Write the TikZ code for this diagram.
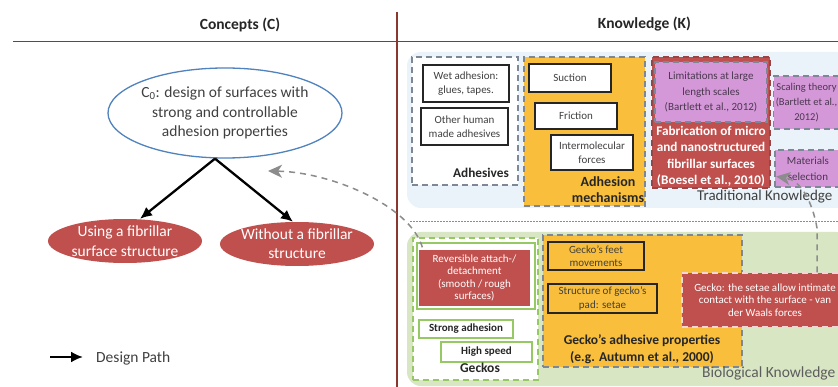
\documentclass[tikz,border=0pt]{standalone}
\usepackage{fontspec}
\setmainfont{Carlito}
\usetikzlibrary{shapes.geometric,arrows.meta,calc}
\definecolor{hdr}{RGB}{140,55,45}
\definecolor{redA}{RGB}{192,80,77}
\definecolor{orng}{RGB}{249,191,60}
\definecolor{purp}{RGB}{212,152,216}
\definecolor{bluebg}{RGB}{234,243,249}
\definecolor{greenbg}{RGB}{216,230,196}
\definecolor{gline}{RGB}{150,200,100}
\definecolor{dgray}{RGB}{125,135,150}
\definecolor{txt}{RGB}{64,64,64}
\definecolor{dtxt}{RGB}{38,38,38}
\definecolor{ptxt}{RGB}{75,55,80}
\definecolor{eblue}{RGB}{80,130,190}
\definecolor{fbgray}{RGB}{140,140,140}
\definecolor{rdash}{RGB}{150,70,70}
\definecolor{wdash}{RGB}{240,215,215}
\newcommand\fsz[2]{\fontsize{#1}{#2}\selectfont}
\begin{document}
\begin{tikzpicture}[x=1pt,y=-1pt,
  bg/.style={rounded corners=14pt, draw=none, inner sep=0pt},
  dbox/.style={draw=dgray, dash pattern=on 6pt off 4pt, line width=1.6pt, inner sep=0pt, align=center},
  wbox/.style={draw=black!85, line width=1.6pt, fill=white, align=center, text=txt, font=\fsz{11}{14}, inner sep=0pt},
  obox/.style={draw=black!85, line width=1.6pt, fill=orng, align=center, text=txt, font=\fsz{11}{13.5}, inner sep=0pt},
  gbox/.style={draw=gline, line width=1.3pt, fill=white, align=center, text=dtxt, font=\bfseries\fsz{11}{13}, inner sep=0pt},
  blab/.style={align=center, text=dtxt, inner sep=0pt},
  hline/.style={draw=hdr, line width=1.5pt},
  dpath/.style={draw=black, line width=2.3pt, -{Latex[length=12pt,width=11pt]}},
  fb/.style={draw=fbgray, line width=1.5pt, dash pattern=on 6pt off 5pt, -{Stealth[length=14pt,width=13pt,inset=4pt]}},
  ell/.style={ellipse, align=center}
]
\clip (0,0) rectangle (838,387);
\fill[white] (0,0) rectangle (838,387);

% header
\coordinate (hl1) at (13,41.5);
\coordinate (hl2) at (838,41.5);
\coordinate (vl1) at (397,12);
\coordinate (vl2) at (397,387);
\draw[hline] (hl1) -- (hl2);
\draw[hline] (vl1) -- (vl2);
\node[font=\bfseries\fsz{15.5}{18}, text=dtxt] (cpt) at (240,25) {Concepts (C)};
\node[font=\bfseries\fsz{15.5}{18}, text=dtxt] (kn) at (644.5,24) {Knowledge (K)};

% backgrounds
\node[bg, fill=bluebg, minimum width=443pt, minimum height=156pt] (trad) at (628.5,130) {};
\node[bg, fill=greenbg, minimum width=443pt, minimum height=154pt] (bio) at (628.5,309) {};
\coordinate (sepL) at (410,222);
\coordinate (sepR) at (838,222);
\draw[fbgray, line width=1pt, dash pattern=on 1.5pt off 1.5pt] (sepL) -- (sepR);

% traditional knowledge
\node[dbox, fill=white, minimum width=106pt, minimum height=128pt] (adh) at (465,121) {};
\node[wbox, minimum width=86pt, minimum height=37pt] (wet) at (466,83.5) {Wet adhesion:\\glues, tapes.};
\node[wbox, minimum width=87pt, minimum height=37pt] (oth) at (464.5,126.5) {Other human\\made adhesives};
\node[blab, font=\bfseries\fsz{13.3}{16}] (adhl) at (481,173) {Adhesives};

\node[dbox, fill=orng, minimum width=121pt, minimum height=149pt] (mech) at (584.5,131.5) {};
\node[wbox, minimum width=82pt, minimum height=28pt] (suc) at (570,78) {Suction};
\node[wbox, minimum width=82pt, minimum height=26pt] (fri) at (576,116) {Friction};
\node[wbox, minimum width=82pt, minimum height=35pt] (inter) at (592,152.5) {Intermolecular\\forces};
\node[blab, font=\bfseries\fsz{14}{16}] (mechl) at (608,190) {Adhesion\\mechanisms};

\node[dbox, draw=rdash, fill=redA, minimum width=118pt, minimum height=131pt] (fab) at (711,122.5) {};
\node[dbox, fill=purp, minimum width=112pt, minimum height=60pt, text=ptxt, font=\fsz{11}{15.5}] (lim) at (711,92) {Limitations at large\\length scales\\(Bartlett et al., 2012)};
\node[blab, text=white, font=\bfseries\fsz{13.2}{16.3}] (fabl) at (711,156.5) {Fabrication of micro\\and nanostructured\\fibrillar surfaces\\(Boesel et al., 2010)};

\node[dbox, fill=purp, minimum width=66pt, minimum height=53pt, text=ptxt, font=\fsz{10.5}{15}] (scal) at (806.5,102.5) {Scaling theory\\(Bartlett et al.,\\2012)};
\node[dbox, fill=purp, minimum width=66pt, minimum height=37pt, text=ptxt, font=\fsz{11}{16}] (mat) at (808,168.5) {Materials\\selection};

\node[anchor=west, inner sep=0pt, font=\fsz{15}{18}, text=txt] (tradl) at (697,197) {Traditional Knowledge};

% biological knowledge
\node[dbox, draw=gline, fill=white, minimum width=125pt, minimum height=142pt] (geck) at (475.5,309) {};
\node[draw=gline, line width=1.3pt, fill=white, inner sep=0pt, minimum width=118pt, minimum height=66pt] (revo) at (476,276) {};
\node[fill=redA, inner sep=0pt, minimum width=111pt, minimum height=56pt, align=center, text=white, font=\fsz{11}{12.3}] (rev) at (474.5,278) {Reversible attach-/\\detachment\\(smooth / rough\\surfaces)};
\node[gbox, minimum width=94pt, minimum height=18pt] (strong) at (466,329) {Strong adhesion};
\node[gbox, minimum width=91pt, minimum height=20pt] (high) at (486.5,352) {High speed};
\node[blab, font=\bfseries\fsz{13.5}{16}] (geckl) at (480,368) {Geckos};

\node[dbox, fill=orng, minimum width=199pt, minimum height=132pt] (gprop) at (642.5,301) {};
\node[obox, minimum width=96pt, minimum height=28pt, font=\fsz{11}{13}] (feet) at (596,256) {Gecko's feet\\movements};
\node[obox, minimum width=109pt, minimum height=29pt, font=\fsz{11}{14}] (struc) at (602.5,298.5) {Structure of gecko's\\pad: setae};
\node[blab, font=\bfseries\fsz{13.5}{17}] (gpropl) at (642,349.5) {Gecko's adhesive properties\\(e.g. Autumn et al., 2000)};
\node[fill=redA, draw=wdash, line width=1.4pt, dash pattern=on 6pt off 4pt, inner sep=0pt, minimum width=166pt, minimum height=54pt, align=center, text=white, font=\fsz{11}{12.5}] (gset) at (765,300) {Gecko: the setae allow intimate\\contact with the surface - van\\der Waals forces};

\node[anchor=west, inner sep=0pt, font=\fsz{15.5}{18}, text=txt!85] (biol) at (702,373) {Biological Knowledge};

% concepts
\node[ell, draw=eblue, line width=1.3pt, fill=white, minimum width=234pt, minimum height=90pt, inner xsep=-3pt, inner ysep=0pt, font=\fsz{15.5}{19.5}, text=txt] (c0) at (225,113) {C\textsubscript{0}: design of surfaces with\\strong and controllable\\adhesion properties};
\node[ell, fill=redA, minimum width=154pt, minimum height=44pt, inner xsep=-2pt, inner ysep=-3pt, text=white, font=\fsz{15.5}{20}] (ue) at (125,241) {Using a fibrillar\\surface structure};
\node[ell, fill=redA, minimum width=154pt, minimum height=44pt, inner xsep=-2pt, inner ysep=-3pt, text=white, font=\fsz{15.5}{19}] (we) at (297,244) {Without a fibrillar\\structure};

\draw[dpath] ([xshift=-10pt]c0.south) -- ([xshift=15pt]ue.north);
\draw[dpath] ([xshift=-10pt]c0.south) -- ([xshift=-4pt]we.north);

% legend
\coordinate (lg1) at (50,357);
\coordinate (lg2) at (83,357);
\draw[dpath] (lg1) -- (lg2);
\node[anchor=west, inner sep=0pt, font=\fsz{15.5}{18}, text=txt] (dp) at (96,358) {Design Path};

% feedback arrows
\coordinate (fb1) at (268,171);
\draw[fb] ([shift={(6pt,-5pt)}]revo.north west) .. controls (410,205) and (330,172) .. (fb1);
\coordinate (fb2a) at (817,228);
\draw[fb] ([xshift=52pt]gset.north) -- (fb2a) .. controls (812,200) and (800,180) .. ([shift={(2pt,-8pt)}]mat.west);
\end{tikzpicture}
\end{document}
